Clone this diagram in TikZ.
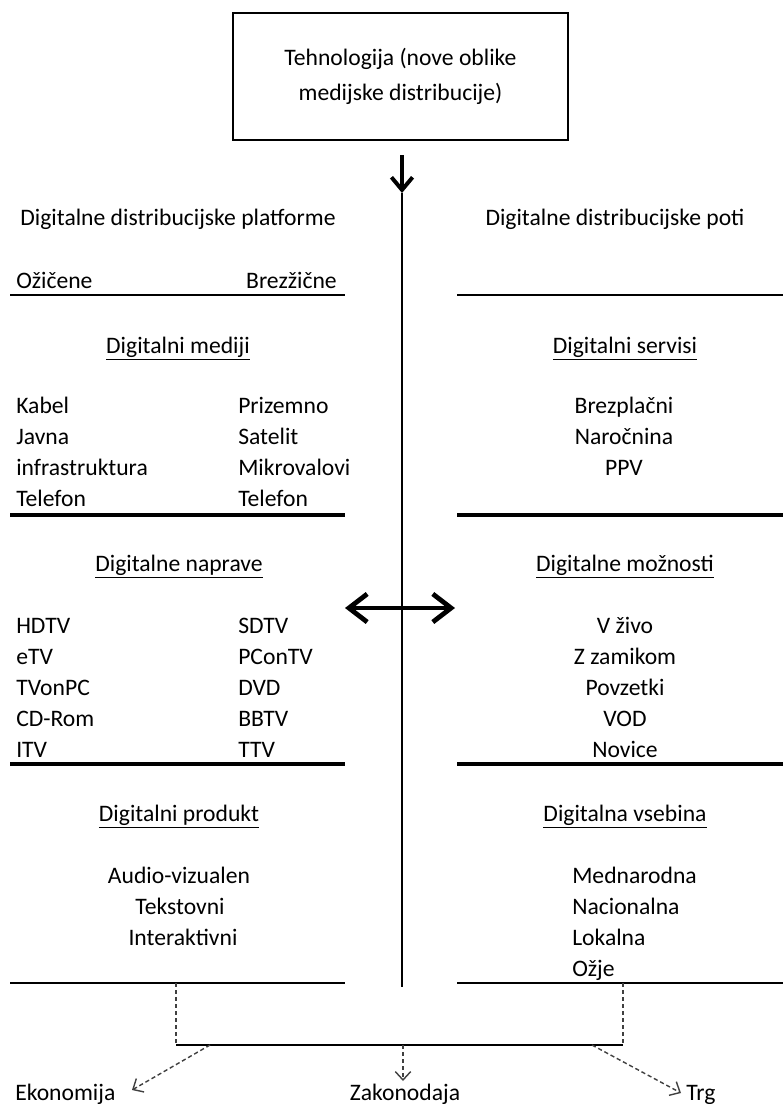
\documentclass[tikz,border=0pt]{standalone}
\usepackage{fontspec}
\setmainfont{Carlito}
\usepackage{tikz}
\usetikzlibrary{arrows.meta, positioning}

\begin{document}
\begin{tikzpicture}
  [
    x=0.025cm, y=-0.025cm,
    Txt/.style={inner sep=0pt, font=\fontsize{16.8}{25}\selectfont},
    Left/.style={Txt, anchor=base west},
    Mid/.style={Txt, anchor=base},
    Right/.style={Txt, anchor=base east},
    Box/.style={draw, line width=1.6pt, align=center, minimum width=8.375cm, minimum height=3.175cm, Txt},
    Thin/.style={line width=1.2pt},
    Thick/.style={line width=2.6pt},
    Dash/.style={densely dashed, draw=black!75, line width=1pt},
    DashArrow/.style={Dash, -{Straight Barb[length=6pt, width=11pt]}}
  ]
  \useasboundingbox (0,0) rectangle (783,1104);

  % Nodes
  \node[Box] (tech) at (400.5, 76.5) {Tehnologija (nove oblike\\medijske distribucije)};

  \node[Mid] (plat) at (178, 225) {Digitalne distribucijske platforme};
  \node[Mid] (poti) at (615, 225) {Digitalne distribucijske poti};
  \node[Left] (ozicene) at (16, 288) {Ožičene};
  \node[Right] (brezzicne) at (337, 288) {Brezžične};

  \node[Mid] (medij) at (178, 353) {\underline{Digitalni mediji}};
  \node[Mid] (servis) at (625, 353) {\underline{Digitalni servisi}};
  \node[Left] (kabel) at (16, 413) {Kabel};
  \node[Left] (javna) at (16, 444) {Javna};
  \node[Left] (infra) at (16, 475) {infrastruktura};
  \node[Left] (telL) at (16, 506) {Telefon};
  \node[Left] (prizem) at (238, 413) {Prizemno};
  \node[Left] (satel) at (238, 444) {Satelit};
  \node[Left] (mikro) at (238, 475) {Mikrovalovi};
  \node[Left] (telR) at (238, 506) {Telefon};
  \node[Mid] (brezpl) at (624, 413) {Brezplačni};
  \node[Mid] (naroc) at (624, 444) {Naročnina};
  \node[Mid] (ppv) at (624, 475) {PPV};

  \node[Mid] (naprave) at (179, 571) {\underline{Digitalne naprave}};
  \node[Mid] (moznost) at (625, 571) {\underline{Digitalne možnosti}};
  \node[Left] (hdtv) at (16, 633) {HDTV};
  \node[Left] (etv) at (16, 664) {eTV};
  \node[Left] (tvonpc) at (16, 695) {TVonPC};
  \node[Left] (cdrom) at (16, 726) {CD-Rom};
  \node[Left] (itv) at (16, 757) {ITV};
  \node[Left] (sdtv) at (238, 633) {SDTV};
  \node[Left] (pcontv) at (238, 664) {PConTV};
  \node[Left] (dvd) at (238, 695) {DVD};
  \node[Left] (bbtv) at (238, 726) {BBTV};
  \node[Left] (ttv) at (238, 757) {TTV};
  \node[Mid] (vzivo) at (625, 633) {V živo};
  \node[Mid] (zamik) at (625, 664) {Z zamikom};
  \node[Mid] (povz) at (625, 695) {Povzetki};
  \node[Mid] (vod) at (625, 726) {VOD};
  \node[Mid] (novice) at (625, 757) {Novice};

  \node[Mid] (produkt) at (179, 821) {\underline{Digitalni produkt}};
  \node[Mid] (vsebina) at (625, 821) {\underline{Digitalna vsebina}};
  \node[Mid] (audio) at (179, 883) {Audio-vizualen};
  \node[Mid] (tekst) at (180, 914) {Tekstovni};
  \node[Mid] (inter) at (183, 945) {Interaktivni};
  \node[Left] (mednar) at (572, 883) {Mednarodna};
  \node[Left] (nacion) at (572, 914) {Nacionalna};
  \node[Left] (lokal) at (572, 945) {Lokalna};
  \node[Left] (ozje) at (572, 976) {Ožje};

  \node[Left] (ekon) at (15, 1100) {Ekonomija};
  \node[Mid] (zakon) at (405, 1100) {Zakonodaja};
  \node[Left] (trg) at (686, 1100) {Trg};

  % Points
  \coordinate (axTop) at (402, 155);
  \coordinate (axTip) at (402, 193);
  \coordinate (axEnd) at (402, 987);
  \coordinate (dblL) at (345, 608);
  \coordinate (dblR) at (455, 608);
  \coordinate (brL) at (176, 1045);
  \coordinate (brR) at (623, 1045);
  \coordinate (outL) at (210, 1045);
  \coordinate (outM) at (403, 1045);
  \coordinate (outR) at (592, 1045);
  \coordinate (ekonTip) at (132, 1090);
  \coordinate (zakonTip) at (403, 1081);
  \coordinate (trgTip) at (681, 1093);

  % Rules
  \draw[Thin] (10, 295) -- (345, 295);
  \draw[Thin] (457, 295) -- (783, 295);
  \draw[Thick] (10, 515) -- (345, 515);
  \draw[Thick] (457, 515) -- (783, 515);
  \draw[Thick] (10, 764) -- (345, 764);
  \draw[Thick] (457, 764) -- (783, 764);
  \draw[Thin] (10, 983) -- (345, 983);
  \draw[Thin] (457, 983) -- (783, 983);

  % Lines
  \path [draw, line width=1pt] (axTip) -- (axEnd);
  \path [draw, line width=2.8pt, -{Straight Barb[length=9pt, width=15pt]}] (axTop) -- (axTip);
  \path [draw, line width=3.4pt, {Straight Barb[length=13pt, width=20pt]}-{Straight Barb[length=13pt, width=20pt]}] (dblL) -- (dblR);
  \path [Dash] (brL |- 0, 983) -- (brL);
  \path [Dash] (brR |- 0, 983) -- (brR);
  \path [draw, line width=1.2pt] (brL) -- (brR);
  \path [DashArrow] (outL) -- (ekonTip);
  \path [DashArrow] (outM) -- (zakonTip);
  \path [DashArrow] (outR) -- (trgTip);

\end{tikzpicture}
\end{document}
